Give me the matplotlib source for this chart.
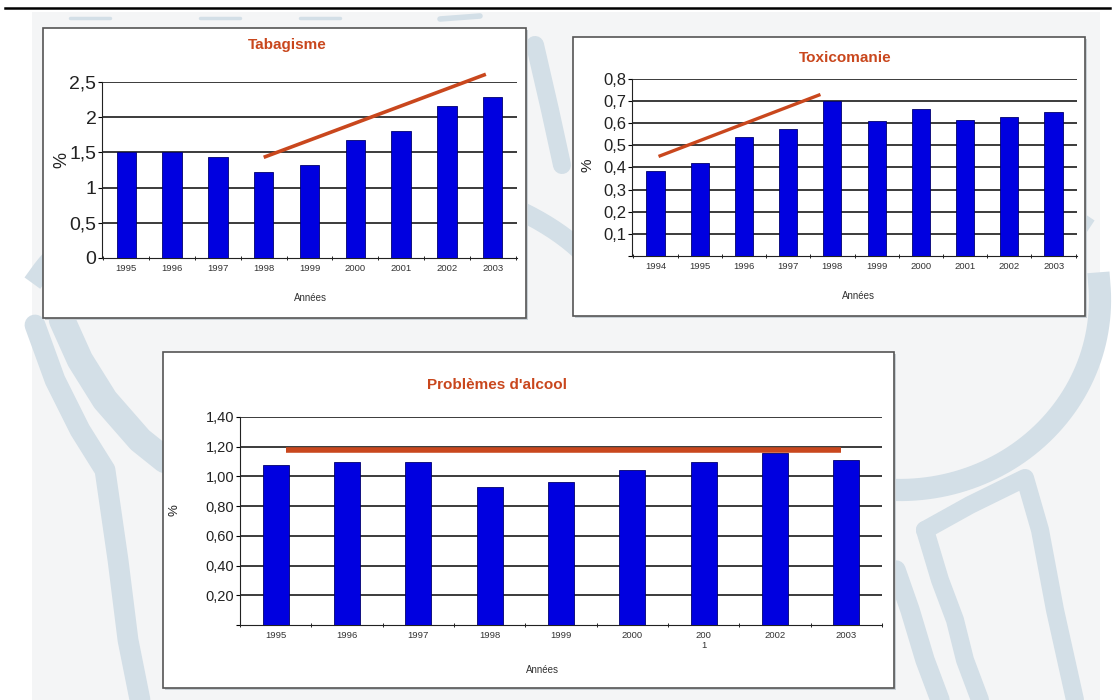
import matplotlib.pyplot as plt
import numpy as np
from matplotlib.patches import Rectangle

# data
tab_years = ['1995', '1996', '1997', '1998', '1999', '2000', '2001', '2002', '2003']
tab_vals = [1.50, 1.50, 1.43, 1.22, 1.32, 1.68, 1.80, 2.16, 2.29]
tab_trend_x = [3.0, 7.85]
tab_trend_y = [1.43, 2.61]

tox_years = ['1994', '1995', '1996', '1997', '1998', '1999', '2000', '2001', '2002', '2003']
tox_vals = [0.385, 0.42, 0.54, 0.575, 0.70, 0.608, 0.665, 0.615, 0.628, 0.65]
tox_trend_x = [0.07, 3.73]
tox_trend_y = [0.45, 0.73]

alc_years = ['1995', '1996', '1997', '1998', '1999', '2000', '200\n1', '2002', '2003']
alc_vals = [1.08, 1.10, 1.10, 0.93, 0.96, 1.04, 1.10, 1.16, 1.11]
alc_trend_x = [0.15, 7.93]
alc_trend_y = [1.175, 1.175]

BLUE = '#0000e0'
EDGE = '#00006e'
ORANGE = '#c9471d'

fig = plt.figure(figsize=(11.15, 7), dpi=100)
fig.patch.set_facecolor('white')

# page background with the faint watermark
bg = fig.add_axes([0, 0, 1, 1])
bg.set_xlim(0, 1115)
bg.set_ylim(700, 0)
bg.axis('off')
bg.add_patch(Rectangle((32, 12), 1068, 700, facecolor='#f4f5f6', edgecolor='none', zorder=0))
wm = '#d3dfe7'
strokes = [
    ([35, 55, 80, 105, 118, 128, 140], [325, 380, 430, 470, 560, 640, 700], 15),
    ([62, 80, 105, 140, 165], [320, 360, 400, 440, 460], 19),
    ([925, 970, 1025, 1040, 1055, 1075], [530, 505, 478, 530, 610, 700], 13),
    ([925, 940, 955, 965, 980], [530, 580, 620, 660, 700], 13),
    ([896, 910, 925, 940], [570, 610, 660, 700], 14),
    ([535, 550, 562], [45, 110, 165], 13),
    ([70, 110], [18, 18], 2.5), ([200, 240], [18, 18], 2.5), ([300, 340], [18, 18], 2.5),
    ([440, 480], [19, 16], 4),
]
for xs, ys, lw in strokes:
    bg.plot(xs, ys, color=wm, lw=lw, solid_capstyle='round', solid_joinstyle='round', zorder=1)
t = np.linspace(np.radians(-5), np.radians(100), 60)
bg.plot(900 + 200 * np.cos(t), 300 + 190 * np.sin(t), color=wm, lw=16, zorder=1)
t = np.linspace(np.radians(200), np.radians(330), 60)
bg.plot(320 + 300 * np.cos(t), 330 + 160 * np.sin(t), color=wm, lw=14, zorder=1)
t = np.linspace(np.radians(200), np.radians(320), 60)
bg.plot(880 + 260 * np.cos(t), 320 + 150 * np.sin(t), color=wm, lw=16, zorder=1)
bg.plot([5, 1110], [8, 8], color='black', lw=1.8, zorder=2)

# panel frames (drawn over the watermark)
for (x0, y0, x1, y1) in [(43, 28, 526, 318), (573, 37, 1085, 316), (163, 352, 894, 688)]:
    bg.add_patch(Rectangle((x0 + 2, y0 + 2), x1 - x0, y1 - y0, facecolor='#c8cfd4',
                           edgecolor='none', zorder=3))
    bg.add_patch(Rectangle((x0, y0), x1 - x0, y1 - y0, facecolor='white',
                           edgecolor='#555555', lw=1.2, zorder=4))


def panel(rect, years, vals, ymax, yticks, ylabels, width, xpad, trend_x, trend_y,
          ysize, title, title_xy, annees_xy, ylab_xy, trend_lw):
    ax = fig.add_axes(rect)
    x = np.arange(len(years))
    ax.bar(x, vals, width=width, color=BLUE, edgecolor=EDGE, lw=0.6, zorder=3)
    ax.set_xlim(-xpad, len(years) - 1 + xpad)
    ax.set_ylim(0, ymax)
    ax.set_yticks(yticks)
    ax.set_yticklabels(ylabels, fontsize=ysize, color='#222222', family='Liberation Sans')
    for v in yticks:
        if v > 0:
            ax.axhline(v, color='#1a1a1a', lw=1.2, zorder=1)
    ax.set_xticks(x)
    ax.set_xticklabels(years, fontsize=6.8, color='#333333', family='Liberation Sans')
    ax.set_xticks(np.arange(len(years) + 1) - 0.5, minor=True)
    ax.tick_params(axis='x', which='major', length=0, pad=4)
    ax.tick_params(axis='x', which='minor', length=3, direction='inout')
    ax.tick_params(axis='y', length=3, pad=1)
    for s in ['top', 'right']:
        ax.spines[s].set_visible(False)
    ax.spines['left'].set_color('#222222')
    ax.spines['bottom'].set_color('#222222')
    ax.set_facecolor('none')
    ax.plot(trend_x, trend_y, color=ORANGE, lw=trend_lw, clip_on=False, zorder=4,
            solid_capstyle='butt')
    fig.text(title_xy[0] / 1115, 1 - title_xy[1] / 700, title, ha='center', va='center',
             fontsize=11, fontweight='bold', color=ORANGE, family='Liberation Sans')
    fig.text(annees_xy[0] / 1115, 1 - annees_xy[1] / 700, 'Années', ha='center', va='center',
             fontsize=7, color='#333333', family='Liberation Sans')
    fig.text(ylab_xy[0] / 1115, 1 - ylab_xy[1] / 700, '%', ha='center', va='center',
             rotation=90, fontsize=ysize - 1, color='#222222', family='Liberation Sans')
    return ax


panel([102 / 1115, 1 - 258 / 700, 415 / 1115, 176 / 700], tab_years, tab_vals, 2.5,
      [0, 0.5, 1, 1.5, 2, 2.5], ['0', '0,5', '1', '1,5', '2', '2,5'], 0.42, 0.53,
      tab_trend_x, tab_trend_y, 14, 'Tabagisme', (287, 45), (310, 298), (62, 160), 2.6)

panel([632 / 1115, 1 - 256 / 700, 445 / 1115, 177 / 700], tox_years, tox_vals, 0.8,
      [0, 0.1, 0.2, 0.3, 0.4, 0.5, 0.6, 0.7, 0.8],
      ['', '0,1', '0,2', '0,3', '0,4', '0,5', '0,6', '0,7', '0,8'], 0.41, 0.53,
      tox_trend_x, tox_trend_y, 12, 'Toxicomanie', (845, 58), (858, 296), (587, 165), 2.4)

panel([240 / 1115, 1 - 625 / 700, 642 / 1115, 208 / 700], alc_years, alc_vals, 1.4,
      [0, 0.2, 0.4, 0.6, 0.8, 1.0, 1.2, 1.4],
      ['', '0,20', '0,40', '0,60', '0,80', '1,00', '1,20', '1,40'], 0.36, 0.48,
      alc_trend_x, alc_trend_y, 10.5, "Problèmes d'alcool", (497, 385), (542, 670), (175, 510), 4.0)

fig.savefig('out.png', dpi=100)
